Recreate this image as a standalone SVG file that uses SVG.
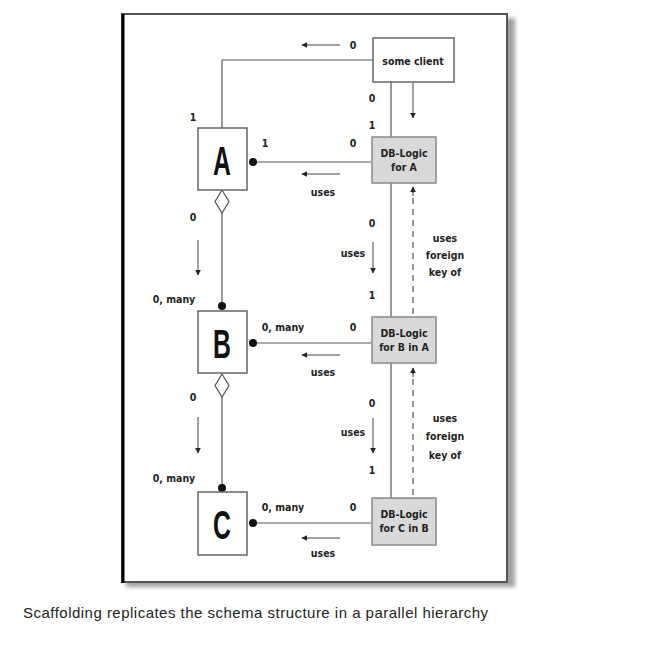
<svg xmlns="http://www.w3.org/2000/svg" width="649" height="656" viewBox="0 0 649 656">
<defs>
<marker id="ah" viewBox="0 0 10 10" refX="9" refY="5" markerWidth="6" markerHeight="6" orient="auto-start-reverse" markerUnits="userSpaceOnUse">
<path d="M0,0 L10,5 L0,10 z" fill="#222"/>
</marker>
<filter id="blur" x="-5%" y="-5%" width="110%" height="110%"><feGaussianBlur stdDeviation="2"/></filter>
</defs>
<style>
.t{font-family:"Liberation Sans Narrow","DejaVu Sans Condensed","Liberation Sans",sans-serif;font-size:10.5px;font-weight:bold;fill:#222;text-anchor:middle;dominant-baseline:central}
.big{font-family:"Liberation Sans",Arial,sans-serif;font-size:40px;font-weight:bold;fill:#111;text-anchor:middle;dominant-baseline:central}
.box{fill:#fff;stroke:#666;stroke-width:1.5}
.db{fill:#d9d9d9;stroke:#888;stroke-width:1.5}
.ln{fill:none;stroke:#555;stroke-width:1.2}
.ar{fill:none;stroke:#444;stroke-width:1;marker-end:url(#ah)}
.dot{fill:#111}
.cap{font-family:"Liberation Sans",Arial,sans-serif;font-size:15px;fill:#222}
</style>
<rect width="649" height="656" fill="#fff"/>
<g id="frame">
<rect x="126" y="18" width="389" height="569" fill="#888" filter="url(#blur)" opacity="0.8"/>
<rect x="122" y="14" width="385" height="568" fill="#fff" stroke="#555" stroke-width="2"/>
<line x1="123" y1="14" x2="123" y2="583" stroke="#000" stroke-width="3"/>
</g>
<g id="connectors">
<polyline class="ln" points="222,128 222,60 373,60"/>
<line class="ln" x1="391" y1="82" x2="391" y2="498"/>
<line class="ar" x1="413" y1="83" x2="413" y2="118"/>
<line class="ln" x1="413" y1="187" x2="413" y2="317" stroke-dasharray="6,5" stroke="#999"/>
<line class="ar" x1="413" y1="196" x2="413" y2="187"/>
<line class="ln" x1="413" y1="368" x2="413" y2="498" stroke-dasharray="6,5" stroke="#999"/>
<line class="ar" x1="413" y1="377" x2="413" y2="368"/>
<line class="ln" x1="253" y1="162" x2="371" y2="162"/>
<circle class="dot" cx="253" cy="162" r="4"/>
<polygon points="222,190 229,201.5 222,213 215,201.5" fill="#fff" stroke="#555" stroke-width="1.2"/>
<line class="ln" x1="222" y1="213" x2="222" y2="306"/>
<circle class="dot" cx="222" cy="306" r="4"/>
<line class="ln" x1="253" y1="343" x2="371" y2="343"/>
<circle class="dot" cx="253" cy="343" r="4"/>
<polygon points="222,374 229,385.5 222,397 215,385.5" fill="#fff" stroke="#555" stroke-width="1.2"/>
<line class="ln" x1="222" y1="397" x2="222" y2="488"/>
<circle class="dot" cx="222" cy="488" r="4"/>
<line class="ln" x1="253" y1="523" x2="371" y2="523"/>
<circle class="dot" cx="253" cy="523" r="4"/>
<line class="ar" x1="340" y1="45" x2="302" y2="45"/>
<line class="ar" x1="340" y1="174" x2="302" y2="174"/>
<line class="ar" x1="340" y1="355" x2="302" y2="355"/>
<line class="ar" x1="340" y1="538" x2="302" y2="538"/>
<line class="ar" x1="198" y1="240" x2="198" y2="275"/>
<line class="ar" x1="198" y1="417" x2="198" y2="453"/>
<line class="ar" x1="373" y1="242" x2="373" y2="273"/>
<line class="ar" x1="373" y1="418" x2="373" y2="453"/>
</g>
<g id="client">
<rect class="box" x="373" y="38" width="81" height="44"/>
<text class="t" x="413" y="61">some client</text>
</g>
<g id="A">
<rect class="box" x="198" y="128" width="49" height="62"/>
<text class="big" transform="translate(222,161) scale(0.62,1)">A</text>
</g>
<g id="B">
<rect class="box" x="198" y="311" width="49" height="62"/>
<text class="big" transform="translate(222,344) scale(0.62,1)">B</text>
</g>
<g id="C">
<rect class="box" x="198" y="492" width="49" height="63"/>
<text class="big" transform="translate(222,525) scale(0.62,1)">C</text>
</g>
<g id="dbA">
<rect class="db" x="372" y="137" width="64" height="46"/>
<text class="t" x="404" y="153">DB-Logic</text>
<text class="t" x="404" y="167">for A</text>
</g>
<g id="dbB">
<rect class="db" x="372" y="317" width="64" height="46"/>
<text class="t" x="404" y="333">DB-Logic</text>
<text class="t" x="404" y="347">for B in A</text>
</g>
<g id="dbC">
<rect class="db" x="372" y="498" width="64" height="47"/>
<text class="t" x="404" y="514">DB-Logic</text>
<text class="t" x="404" y="528">for C in B</text>
</g>
<g id="labels">
<text class="t" x="353" y="45">0</text>
<text class="t" x="372" y="98">0</text>
<text class="t" x="372" y="125">1</text>
<text class="t" x="193" y="117">1</text>
<text class="t" x="265" y="143">1</text>
<text class="t" x="353" y="143">0</text>
<text class="t" x="323" y="192">uses</text>
<text class="t" x="193" y="217">0</text>
<text class="t" x="372" y="223">0</text>
<text class="t" x="353" y="253">uses</text>
<text class="t" x="372" y="295">1</text>
<text class="t" x="445" y="238">uses</text>
<text class="t" x="445" y="255">foreign</text>
<text class="t" x="445" y="272">key of</text>
<text class="t" x="174" y="299">0, many</text>
<text class="t" x="283" y="327">0, many</text>
<text class="t" x="353" y="327">0</text>
<text class="t" x="323" y="372">uses</text>
<text class="t" x="193" y="397">0</text>
<text class="t" x="372" y="403">0</text>
<text class="t" x="353" y="432">uses</text>
<text class="t" x="372" y="470">1</text>
<text class="t" x="445" y="418">uses</text>
<text class="t" x="445" y="436">foreign</text>
<text class="t" x="445" y="455">key of</text>
<text class="t" x="174" y="478">0, many</text>
<text class="t" x="283" y="507">0, many</text>
<text class="t" x="353" y="507">0</text>
<text class="t" x="323" y="553">uses</text>
</g>
<text class="cap" x="23" y="618" textLength="465" lengthAdjust="spacing">Scaffolding replicates the schema structure in a parallel hierarchy</text>
</svg>
